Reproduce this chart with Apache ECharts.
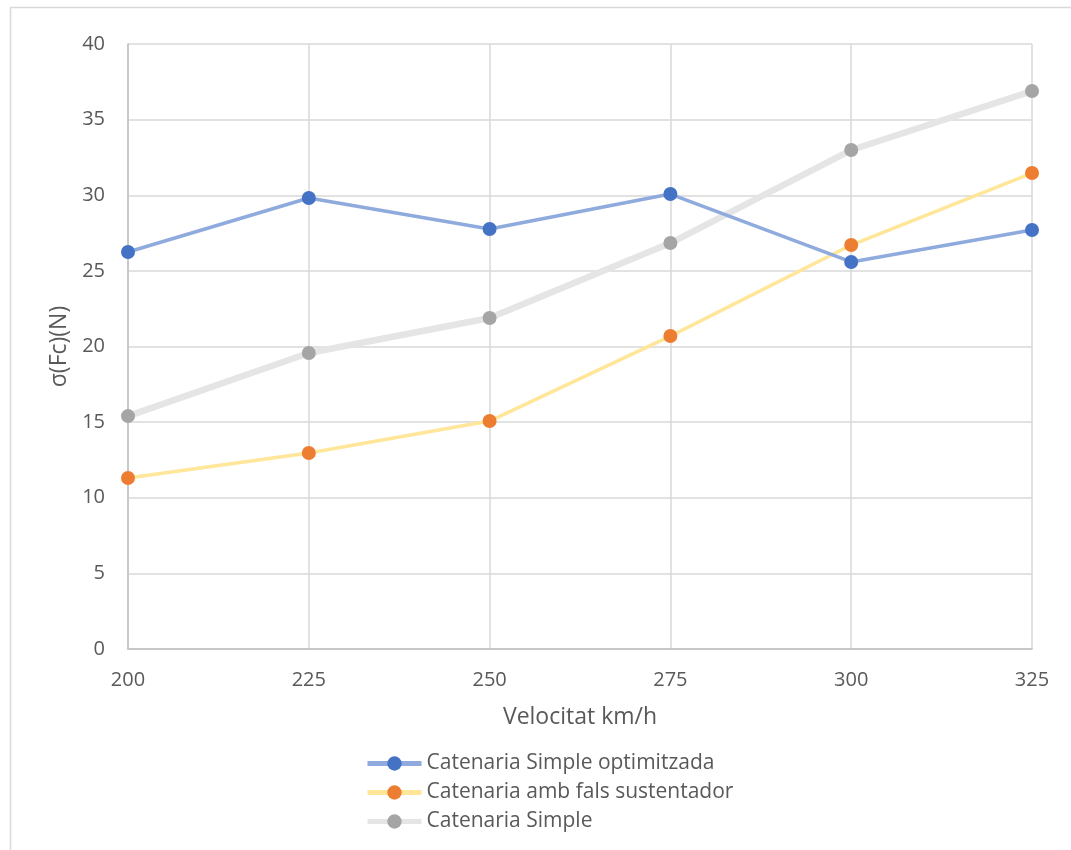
<!DOCTYPE html>
<html>
<head>
<meta charset="utf-8">
<script src="https://cdn.jsdelivr.net/npm/echarts@6/dist/echarts.min.js"></script>
<style>
  html, body { margin: 0; padding: 0; background: #ffffff; }
  #chart { width: 1071px; height: 850px; }
</style>
</head>
<body>
<div id="chart"></div>
<script>
// Velocities (km/h) on the horizontal axis
const velocities = [200, 225, 250, 275, 300, 325];

// Standard deviation of contact force, σ(Fc) in N
const simpleOptimitzada = [26.25, 29.82, 27.77, 30.08, 25.59, 27.70];
const falsSustentador   = [11.31, 12.96, 15.07, 20.69, 26.71, 31.47];
const simple            = [15.40, 19.57, 21.88, 26.84, 32.99, 36.89];

const seriesNames = [
  'Catenaria Simple optimitzada',
  'Catenaria amb fals sustentador',
  'Catenaria Simple'
];

const textColor = '#595959';
const fontFamily = '"Open Sans", "Noto Sans", sans-serif';

function pairs(values) {
  return velocities.map((v, i) => [v, values[i]]);
}

function lineSeries(name, values, lineColor, markerColor, lineWidth, z) {
  return {
    name: name,
    type: 'line',
    data: pairs(values),
    symbol: 'circle',
    symbolSize: 14,
    z: z,
    lineStyle: { color: lineColor, width: lineWidth },
    itemStyle: { color: markerColor, borderWidth: 0 },
    emphasis: { disabled: true }
  };
}

const chart = echarts.init(document.getElementById('chart'), null, { renderer: 'canvas' });

chart.setOption({
  backgroundColor: '#ffffff',
  animation: false,
  graphic: [{
    type: 'rect',
    left: 8,
    top: 5,
    shape: { width: 1200, height: 1000 },
    style: { fill: 'none', stroke: '#d9d9d9', lineWidth: 1.5 },
    silent: true,
    z: -1
  }],
  grid: { left: 128, right: 39, top: 44, bottom: 201, containLabel: false },
  xAxis: {
    type: 'value',
    min: 200,
    max: 325,
    interval: 25,
    name: 'Velocitat km/h',
    nameLocation: 'middle',
    nameGap: 57,
    nameTextStyle: { color: textColor, fontSize: 23, fontFamily: fontFamily },
    axisLine: { show: true, lineStyle: { color: '#bfbfbf', width: 1.5 } },
    axisTick: { show: false },
    axisLabel: { color: textColor, fontSize: 20, fontFamily: fontFamily, margin: 21 },
    splitLine: { show: true, lineStyle: { color: '#d9d9d9', width: 1.5 } }
  },
  yAxis: {
    type: 'value',
    min: 0,
    max: 40,
    interval: 5,
    name: 'σ(Fc)(N)',
    nameLocation: 'middle',
    nameGap: 54,
    nameRotate: 90,
    nameTextStyle: { color: textColor, fontSize: 23, fontFamily: fontFamily },
    axisLine: { show: true, lineStyle: { color: '#bfbfbf', width: 1.5 } },
    axisTick: { show: false },
    axisLabel: { color: textColor, fontSize: 20, fontFamily: fontFamily, margin: 23 },
    splitLine: { show: true, lineStyle: { color: '#d9d9d9', width: 1.5 } }
  },
  legend: {
    orient: 'vertical',
    left: 360,
    top: 748,
    itemWidth: 54,
    itemHeight: 18,
    itemGap: 8,
    lineStyle: { width: 5 },
    textStyle: { color: textColor, fontSize: 21, fontFamily: fontFamily },
    data: seriesNames
  },
  series: [
    lineSeries(seriesNames[2], simple, '#e5e5e5', '#a5a5a5', 6.5, 2),
    lineSeries(seriesNames[1], falsSustentador, '#ffe699', '#ed7d31', 3.5, 3),
    lineSeries(seriesNames[0], simpleOptimitzada, '#8faadc', '#4472c4', 3.5, 4)
  ]
});
</script>
</body>
</html>
